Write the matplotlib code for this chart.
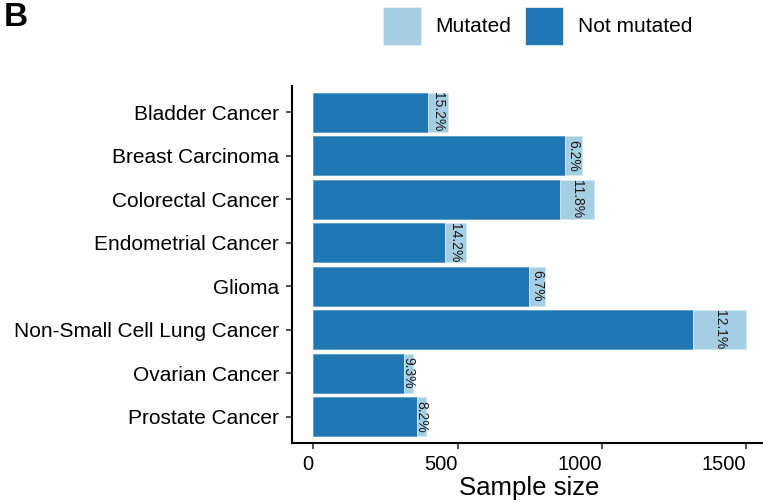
import matplotlib
matplotlib.use("Agg")
import matplotlib.pyplot as plt
from matplotlib.patches import Rectangle
import numpy as np

plt.rcParams["font.family"] = ["Liberation Sans", "DejaVu Sans"]

# Sample counts per cancer type
categories = [
    "Bladder Cancer",
    "Breast Carcinoma",
    "Colorectal Cancer",
    "Endometrial Cancer",
    "Glioma",
    "Non-Small Cell Lung Cancer",
    "Ovarian Cancer",
    "Prostate Cancer",
]
not_mutated = [396, 874, 857, 455, 748, 1318, 313, 359]
mutated = [71, 58, 115, 75, 54, 182, 32, 32]
x_ticks = [0, 500, 1000, 1500]

col_mut = "#A6CEE3"
col_not = "#1F78B4"

W, H = 763, 503
fig = plt.figure(figsize=(W / 100, H / 100), dpi=100)

# axes placement in pixels
ax_l, ax_r, ax_t, ax_b = 291.7, 767.5, 86.0, 442.7
ax = fig.add_axes([ax_l / W, 1 - ax_b / H, (ax_r - ax_l) / W, (ax_b - ax_t) / H])

n = len(categories)
y = np.arange(n, 0, -1)
nm = np.array(not_mutated)
mu = np.array(mutated)
total = nm + mu

ax.barh(y, nm, height=0.9, color=col_not, edgecolor="#5a9bc9", linewidth=0.6)
ax.barh(y, mu, left=nm, height=0.9, color=col_mut, edgecolor="#d4e8f2", linewidth=0.6)

for yi, a, b, t in zip(y, nm, mu, total):
    pct = b / t * 100
    ax.text(a + b / 2, yi, f"{pct:.1f}%", rotation=-90, ha="center", va="center",
            fontsize=10, color="#1a1a1a", rotation_mode="anchor")

ax.set_xlim(-75, 1575)
ax.set_ylim(0.4, n + 0.6)
ax.set_yticks(y)
ax.set_yticklabels(categories, fontsize=15, color="black")
ax.set_xticks(x_ticks)
ax.set_xticklabels([str(v) for v in x_ticks], fontsize=14.5, color="black", ha="right")
ax.tick_params(axis="both", length=4.5, width=1.2, color="#333333")
ax.tick_params(axis="y", pad=4.5)
ax.tick_params(axis="x", pad=4)
for side in ["top", "right"]:
    ax.spines[side].set_visible(False)
for side in ["left", "bottom"]:
    ax.spines[side].set_linewidth(1.5)
    ax.spines[side].set_color("black")
ax.set_xlabel("Sample size", fontsize=18.5, labelpad=2)

# legend drawn at the top
def px_rect(x0, y0, x1, y1, color):
    fig.add_artist(Rectangle((x0 / W, 1 - y1 / H), (x1 - x0) / W, (y1 - y0) / H,
                             transform=fig.transFigure, facecolor=color,
                             edgecolor="#eeeeee", linewidth=0.6))

px_rect(382.7, 7.3, 420.7, 45.0, col_mut)
fig.text(435 / W, 1 - 26.5 / H, "Mutated", fontsize=15, va="center", ha="left")
px_rect(525.0, 7.3, 562.7, 45.0, col_not)
fig.text(578.3 / W, 1 - 26.5 / H, "Not mutated", fontsize=15, va="center", ha="left")

fig.text(4 / W, 1 - 17 / H, "B", fontsize=24, fontweight="bold", va="center", ha="left")

fig.savefig("out.png", dpi=100)
